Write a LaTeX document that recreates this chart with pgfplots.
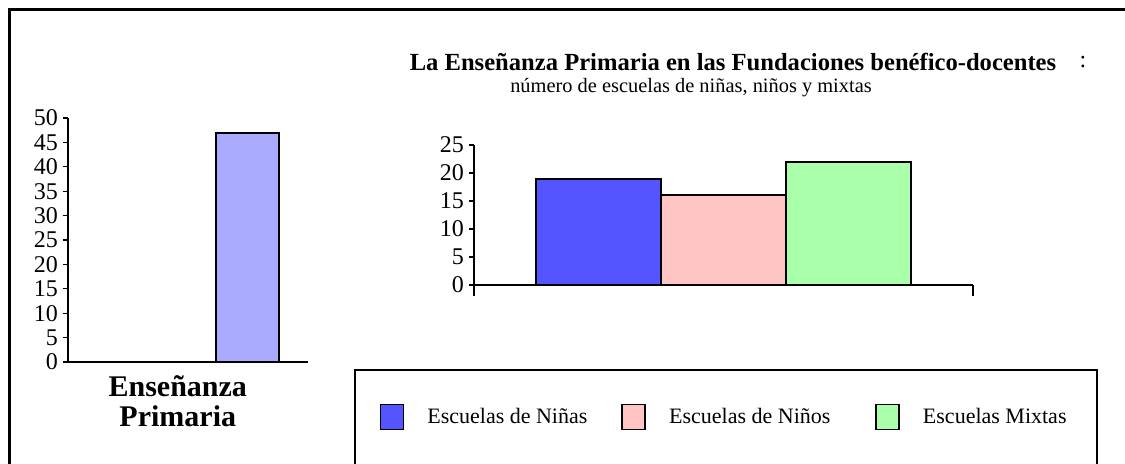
\documentclass[border=0pt]{standalone}
\usepackage{pgfplots}
\pgfplotsset{compat=1.18}
\usepackage{fontspec}
\setmainfont{Liberation Serif}
\definecolor{barLeft}{RGB}{170,170,255}
\definecolor{ninas}{RGB}{85,85,255}
\definecolor{ninos}{RGB}{255,196,196}
\definecolor{mixtas}{RGB}{170,255,170}
\begin{document}
\begin{tikzpicture}[x=0.5pt,y=0.5pt]
\useasboundingbox (0,0) rectangle (1125,464);
% outer frame
\draw[line width=1.5pt] (9,0) -- (9,454) -- (1125,454);
% legend frame
\draw[line width=0.6pt] (355,0) -- (355,94) -- (1097,94) -- (1097,0);

% left chart
\begin{axis}[
  at={(34pt,51pt)}, anchor=south west,
  scale only axis, width=120pt, height=122pt,
  axis x line=bottom, axis y line=left,
  axis line style={-, line width=0.6pt},
  xmin=0, xmax=4, ymin=0, ymax=50,
  ytick={0,5,...,50},
  tick align=outside, ytick pos=left,
  major tick length=2.5pt,
  tick style={black, line width=0.6pt},
  xtick={1.83}, xticklabels={Enseñanza\\Primaria},
  x tick style={draw=none},
  xticklabel style={align=center, font=\bfseries\fontsize{15}{15}\selectfont, yshift=-1pt},
  yticklabel style={font=\fontsize{12}{12}\selectfont, xshift=1pt},
  /pgf/number format/assume math mode=true,
  ybar, bar width=1.05, bar shift=0pt,
]
\addplot[draw=black, line width=1pt, fill=barLeft] coordinates {(3,47)};
\end{axis}

% title
\node[font=\bfseries\fontsize{12.3}{12.3}\selectfont] at (733,402) {La Enseñanza Primaria en las Fundaciones benéfico-docentes};
\node[font=\fontsize{12}{12}\selectfont] at (1083,402) {:};
\node[font=\fontsize{10.2}{10.2}\selectfont] at (691,376) {número de escuelas de niñas, niños y mixtas};

% right chart
\begin{axis}[
  at={(237pt,89.5pt)}, anchor=south west,
  scale only axis, width=249.5pt, height=70pt,
  axis x line=bottom, axis y line=left,
  axis line style={-, line width=0.6pt},
  xmin=0, xmax=4, ymin=0, ymax=25,
  ytick={0,5,...,25},
  xtick=\empty,
  extra x ticks={0,4}, extra x tick labels={},
  extra x tick style={major tick length=5.5pt, tick align=outside, xtick pos=bottom},
  tick align=outside, ytick pos=left,
  major tick length=2.5pt,
  tick style={black, line width=0.6pt},
  yticklabel style={font=\fontsize{12}{12}\selectfont, xshift=1pt},
  /pgf/number format/assume math mode=true,
  ybar, bar width=1, bar shift=0pt,
  legend image code/.code={\draw[#1, line width=0.9pt] (0pt,-6.25pt) rectangle (11.5pt,6.25pt);},
  legend style={at={(axis description cs:-0.190,-0.943)}, anchor=west, draw=none,
    fill=none, inner sep=0pt, legend columns=3,
    nodes={inner sep=0pt, font=\fontsize{11}{11}\selectfont},
    /tikz/every odd column/.append style={column sep=11.5pt},
    /tikz/every even column/.append style={column sep=0pt}},
]
\addplot[draw=black, line width=1pt, fill=ninas] coordinates {(1,19)};
\addplot[draw=black, line width=1pt, fill=ninos] coordinates {(2,16)};
\addplot[draw=black, line width=1pt, fill=mixtas] coordinates {(3,22)};
\legend{\makebox[97pt][l]{Escuelas de Niñas},\makebox[103pt][l]{Escuelas de Niños},Escuelas Mixtas}
\end{axis}
\end{tikzpicture}
\end{document}
